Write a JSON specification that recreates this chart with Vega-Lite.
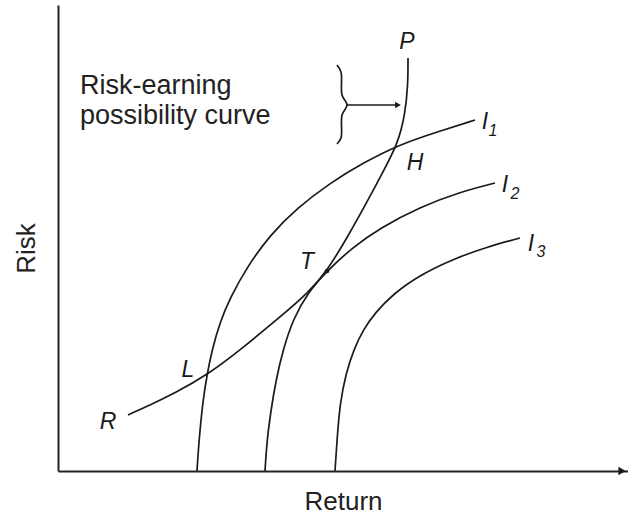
{
  "$schema": "https://vega.github.io/schema/vega-lite/v6.json",
  "width": 570,
  "height": 466,
  "autosize": {"type": "none"},
  "padding": {"left": 58, "top": 5, "right": 0, "bottom": 48},
  "background": "white",
  "config": {
    "view": {"stroke": null},
    "font": "Liberation Sans",
    "axis": {"grid": false, "ticks": false, "labels": false, "domainColor": "#222", "domainWidth": 2, "titleFont": "Liberation Sans", "titleFontSize": 26, "titleFontWeight": "normal", "titleColor": "#222"}
  },
  "datasets": {
    "curves": [
      {"c": "I1", "o": 0, "x": 139, "y": 0}, {"c": "I1", "o": 1, "x": 141, "y": 31}, {"c": "I1", "o": 2, "x": 145, "y": 71}, {"c": "I1", "o": 3, "x": 149, "y": 96}, {"c": "I1", "o": 4, "x": 154, "y": 121}, {"c": "I1", "o": 5, "x": 162, "y": 149}, {"c": "I1", "o": 6, "x": 172, "y": 173}, {"c": "I1", "o": 7, "x": 189, "y": 204}, {"c": "I1", "o": 8, "x": 212, "y": 236}, {"c": "I1", "o": 9, "x": 239, "y": 263}, {"c": "I1", "o": 10, "x": 272, "y": 288}, {"c": "I1", "o": 11, "x": 305, "y": 308}, {"c": "I1", "o": 12, "x": 340, "y": 326}, {"c": "I1", "o": 13, "x": 382, "y": 340}, {"c": "I1", "o": 14, "x": 417, "y": 351},
      {"c": "I2", "o": 0, "x": 207, "y": 0}, {"c": "I2", "o": 1, "x": 209, "y": 31}, {"c": "I2", "o": 2, "x": 213, "y": 61}, {"c": "I2", "o": 3, "x": 218, "y": 91}, {"c": "I2", "o": 4, "x": 225, "y": 121}, {"c": "I2", "o": 5, "x": 235, "y": 152}, {"c": "I2", "o": 6, "x": 251, "y": 180}, {"c": "I2", "o": 7, "x": 269, "y": 200}, {"c": "I2", "o": 8, "x": 295, "y": 224}, {"c": "I2", "o": 9, "x": 322, "y": 243}, {"c": "I2", "o": 10, "x": 362, "y": 264}, {"c": "I2", "o": 11, "x": 402, "y": 279}, {"c": "I2", "o": 12, "x": 437, "y": 288},
      {"c": "I3", "o": 0, "x": 277, "y": 0}, {"c": "I3", "o": 1, "x": 279, "y": 31}, {"c": "I3", "o": 2, "x": 282, "y": 68}, {"c": "I3", "o": 3, "x": 288, "y": 98}, {"c": "I3", "o": 4, "x": 296, "y": 122}, {"c": "I3", "o": 5, "x": 305, "y": 141}, {"c": "I3", "o": 6, "x": 317, "y": 158}, {"c": "I3", "o": 7, "x": 335, "y": 177}, {"c": "I3", "o": 8, "x": 362, "y": 196}, {"c": "I3", "o": 9, "x": 395, "y": 212}, {"c": "I3", "o": 10, "x": 429, "y": 224}, {"c": "I3", "o": 11, "x": 462, "y": 233},
      {"c": "RP", "o": 0, "x": 70, "y": 56}, {"c": "RP", "o": 1, "x": 92, "y": 66}, {"c": "RP", "o": 2, "x": 117, "y": 78}, {"c": "RP", "o": 3, "x": 149, "y": 96}, {"c": "RP", "o": 4, "x": 181, "y": 120}, {"c": "RP", "o": 5, "x": 222, "y": 154}, {"c": "RP", "o": 6, "x": 250, "y": 178}, {"c": "RP", "o": 7, "x": 269, "y": 200}, {"c": "RP", "o": 8, "x": 289, "y": 233}, {"c": "RP", "o": 9, "x": 309, "y": 269}, {"c": "RP", "o": 10, "x": 326, "y": 301}, {"c": "RP", "o": 11, "x": 340, "y": 328}, {"c": "RP", "o": 12, "x": 347, "y": 356}, {"c": "RP", "o": 13, "x": 350, "y": 386}, {"c": "RP", "o": 14, "x": 350, "y": 413},
      {"c": "brace", "o": 0, "x": 279, "y": 406}, {"c": "brace", "o": 1, "x": 283, "y": 399}, {"c": "brace", "o": 2, "x": 284, "y": 376}, {"c": "brace", "o": 3, "x": 289, "y": 366}, {"c": "brace", "o": 4, "x": 284, "y": 356}, {"c": "brace", "o": 5, "x": 283, "y": 333}, {"c": "brace", "o": 6, "x": 279, "y": 327},
      {"c": "arrow", "o": 0, "x": 289, "y": 366}, {"c": "arrow", "o": 1, "x": 340, "y": 366}
    ],
    "labels": [
      {"t": "P", "x": 349, "y": 429, "s": 23},
      {"t": "H", "x": 357, "y": 308, "s": 23},
      {"t": "L", "x": 130, "y": 101, "s": 23},
      {"t": "T", "x": 249, "y": 209, "s": 23},
      {"t": "R", "x": 50, "y": 49, "s": 23},
      {"t": "I", "x": 427, "y": 349, "s": 23},
      {"t": "I", "x": 447, "y": 286, "s": 23},
      {"t": "I", "x": 473, "y": 227, "s": 23},
      {"t": "1", "x": 435, "y": 340, "s": 16},
      {"t": "2", "x": 457, "y": 277, "s": 16},
      {"t": "3", "x": 483, "y": 219, "s": 16}
    ],
    "notes": [
      {"t": "Risk-earning", "x": 22, "y": 377},
      {"t": "possibility curve", "x": 22, "y": 347}
    ],
    "heads": [
      {"k": "x", "x": 564, "y": 0},
      {"k": "a", "x": 340, "y": 366}
    ],
    "dots": [{"x": 269, "y": 200}]
  },
  "layer": [
    {
      "data": {"name": "curves"},
      "transform": [{"filter": "datum.c != 'brace' && datum.c != 'arrow'"}],
      "mark": {"type": "line", "interpolate": "basis", "color": "#1a1a1a", "strokeWidth": 1.7},
      "encoding": {
        "x": {"field": "x", "type": "quantitative", "scale": {"domain": [0, 570], "nice": false, "zero": false}, "axis": {"title": "Return", "titlePadding": 17}},
        "y": {"field": "y", "type": "quantitative", "scale": {"domain": [0, 466], "nice": false, "zero": false}, "axis": {"title": "Risk", "titlePadding": 19, "titleY": 243}},
        "detail": {"field": "c"},
        "order": {"field": "o", "type": "quantitative"}
      }
    },
    {
      "data": {"name": "curves"},
      "transform": [{"filter": "datum.c == 'brace' || datum.c == 'arrow'"}],
      "mark": {"type": "line", "interpolate": "catmull-rom", "color": "#1a1a1a", "strokeWidth": 1.7},
      "encoding": {
        "x": {"field": "x", "type": "quantitative"},
        "y": {"field": "y", "type": "quantitative"},
        "detail": {"field": "c"},
        "order": {"field": "o", "type": "quantitative"}
      }
    },
    {
      "data": {"name": "heads"},
      "mark": {"type": "point", "shape": "triangle-right", "filled": true, "color": "#1a1a1a", "opacity": 1},
      "encoding": {
        "x": {"field": "x", "type": "quantitative"},
        "y": {"field": "y", "type": "quantitative"},
        "size": {"condition": {"test": "datum.k == 'x'", "value": 70}, "value": 45}
      }
    },
    {
      "data": {"name": "dots"},
      "mark": {"type": "point", "shape": "circle", "filled": true, "color": "#1a1a1a", "size": 22, "opacity": 1},
      "encoding": {
        "x": {"field": "x", "type": "quantitative"},
        "y": {"field": "y", "type": "quantitative"}
      }
    },
    {
      "data": {"name": "labels"},
      "mark": {"type": "text", "font": "Liberation Sans", "fontStyle": "italic", "color": "#1a1a1a", "align": "center", "baseline": "middle"},
      "encoding": {
        "x": {"field": "x", "type": "quantitative"},
        "y": {"field": "y", "type": "quantitative"},
        "text": {"field": "t"},
        "size": {"field": "s", "type": "quantitative", "scale": null}
      }
    },
    {
      "data": {"name": "notes"},
      "mark": {"type": "text", "font": "Liberation Sans", "fontSize": 27, "color": "#222", "align": "left", "baseline": "alphabetic"},
      "encoding": {
        "x": {"field": "x", "type": "quantitative"},
        "y": {"field": "y", "type": "quantitative"},
        "text": {"field": "t"}
      }
    }
  ]
}
